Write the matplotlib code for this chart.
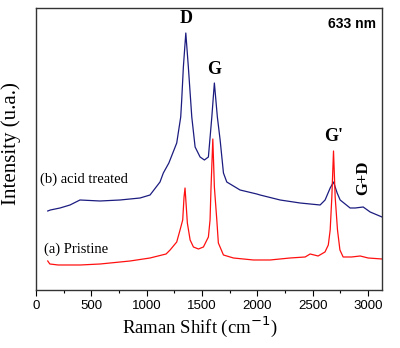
import matplotlib
matplotlib.use('Agg')
import matplotlib.pyplot as plt
from matplotlib.ticker import MultipleLocator

# Raman shift (cm-1) and intensity (arb. units)
pristine_x = [106, 125, 200, 400, 580, 850, 1030, 1175, 1211, 1271, 1301, 1325, 1337, 1346,
              1355, 1367, 1392, 1422, 1467, 1512, 1557, 1572, 1581, 1597, 1611, 1633,
              1647, 1693, 1783, 1964, 2114, 2295, 2431, 2476, 2548, 2610, 2640, 2657,
              2672, 2687, 2702, 2723, 2745, 2774, 2850, 2928, 3000, 3125]
pristine_y = [29, 26, 25, 25, 26, 29, 32, 36, 40, 48, 60, 70, 93, 102,
              87, 67, 50, 43, 41, 43, 53, 70, 103, 151, 103, 70,
              47, 35, 32, 30, 30, 32, 33, 36, 34, 38, 45, 60,
              93, 139, 93, 60, 40, 33, 33, 34, 32, 31]

acid_x = [106, 130, 217, 307, 397, 578, 759, 940, 1030, 1120, 1150, 1200, 1271, 1307,
          1316, 1331, 1353, 1376, 1407, 1437, 1482, 1521, 1557, 1588, 1611, 1638,
          1663, 1693, 1723, 1843, 1994, 2024, 2205, 2385, 2566, 2611, 2657,
          2687, 2720, 2747, 2837, 2883, 2955, 3018, 3125]
acid_y = [79, 80, 82, 85, 90, 89, 90, 92, 95, 108, 117, 127, 147, 173,
          190, 223, 257, 223, 173, 143, 133, 130, 133, 173, 207, 173,
          150, 117, 108, 100, 96, 95, 90, 87, 85, 90, 102,
          108, 97, 90, 82, 82, 83, 78, 73]

xticks = [0, 500, 1000, 1500, 2000, 2500, 3000]

serif = ['Liberation Serif', 'DejaVu Serif']
sans = ['Liberation Sans', 'DejaVu Sans']

fig = plt.figure(figsize=(4.0, 3.48), dpi=100)
ax = fig.add_axes([0.09, 0.1667, 0.865, 0.8103])

ax.plot(acid_x, acid_y, color='#1c1c80', lw=0.9)
ax.plot(pristine_x, pristine_y, color='#ff1010', lw=0.9)

ax.set_xlim(0, 3125)
ax.set_ylim(0, 282)
ax.set_xticks(xticks)
ax.xaxis.set_minor_locator(MultipleLocator(250))
ax.set_yticks([])
ax.tick_params(axis='x', which='major', direction='out', length=4, width=0.8,
               labelsize=9.5, pad=3)
ax.tick_params(axis='x', which='minor', direction='out', length=2.5, width=0.8)
for lab in ax.get_xticklabels():
    lab.set_family(sans)
for s in ax.spines.values():
    s.set_color('#333333')
    s.set_linewidth(1.0)

ax.set_xlabel('Raman Shift (cm$^{-1}$)', family=serif, fontsize=13.5)
ax.xaxis.set_label_coords(0.474, -0.085)
ax.set_ylabel('Intensity (u.a.)', family=serif, fontsize=15)
ax.yaxis.set_label_coords(-0.042, 0.52)

# peak labels
ax.text(1355, 272, 'D', family=serif, fontsize=13, fontweight='bold', ha='center', va='center')
ax.text(1610, 221, 'G', family=serif, fontsize=13, fontweight='bold', ha='center', va='center')
ax.text(2685, 153, "G'", family=serif, fontsize=13, fontweight='bold', ha='center', va='center')
ax.text(2955, 112, 'G+D', family=serif, fontsize=12, fontweight='bold', ha='center', va='center',
        rotation=90)
ax.text(3075, 266, '633 nm', family=sans, fontsize=10, fontweight='bold', ha='right', va='center')

ax.text(40, 111, '(b) acid treated', family=serif, fontsize=10.5, ha='left', va='center')
ax.text(70, 41, '(a) Pristine', family=serif, fontsize=10.5, ha='left', va='center')

fig.savefig('out.png', dpi=100)
